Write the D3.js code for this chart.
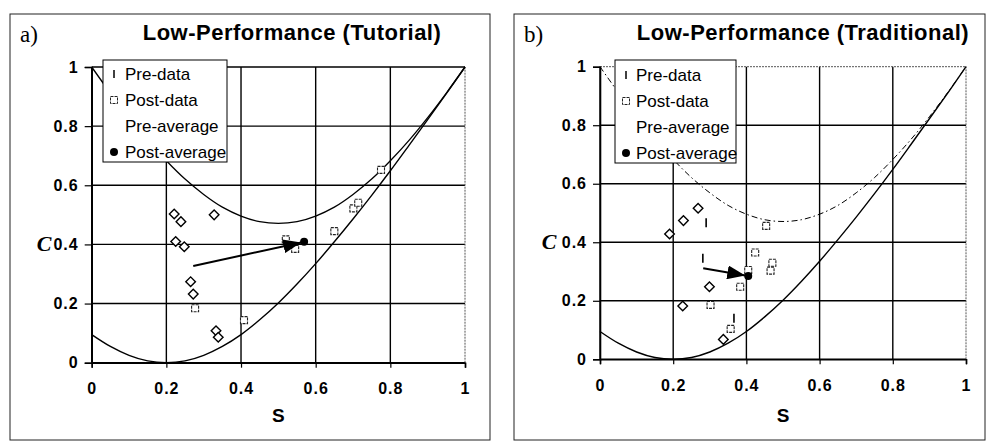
<!DOCTYPE html>
<html>
<head>
<meta charset="utf-8">
<script src="https://cdn.jsdelivr.net/npm/d3@7"></script>
<style>
  body { margin: 0; background: #fff; }
  text { font-family: "Liberation Sans", Arial, sans-serif; fill: #000; }
</style>
</head>
<body>
<svg id="chart" width="986" height="445"></svg>
<script>
// boundary curves
var curveS = [0, 0.05, 0.1, 0.15, 0.2, 0.25, 0.3, 0.35, 0.4, 0.45, 0.5, 0.55, 0.6, 0.65, 0.7, 0.75, 0.8, 0.85, 0.9, 0.95, 1];
var lowerC = [0.095, 0.055, 0.025, 0.006, 0, 0.006, 0.025, 0.055, 0.095, 0.145, 0.202, 0.266, 0.335, 0.409, 0.486, 0.566, 0.649, 0.735, 0.822, 0.91, 1];
var upperC = [1, 0.912, 0.829, 0.752, 0.683, 0.621, 0.569, 0.526, 0.496, 0.477, 0.471, 0.477, 0.496, 0.526, 0.569, 0.621, 0.683, 0.752, 0.829, 0.912, 1];

var ticks = [0, 0.2, 0.4, 0.6, 0.8, 1];
var legendLabels = ["Pre-data", "Post-data", "Pre-average", "Post-average"];

// a) tutorial
var tutorialPre = [[0.221, 0.503], [0.239, 0.477], [0.328, 0.50], [0.225, 0.41], [0.248, 0.392],
                   [0.265, 0.274], [0.272, 0.232], [0.333, 0.108], [0.339, 0.086]];
var tutorialPreBars = [];
var tutorialPost = [[0.277, 0.184], [0.408, 0.144], [0.52, 0.417], [0.545, 0.385], [0.65, 0.445],
                    [0.701, 0.522], [0.714, 0.541], [0.775, 0.652]];
var tutorialPreAvg = [0.272, 0.327];
var tutorialPostAvg = [0.569, 0.409];

// b) traditional
var traditionalPre = [[0.19, 0.428], [0.228, 0.474], [0.268, 0.516], [0.299, 0.248], [0.226, 0.182], [0.337, 0.068]];
var traditionalPreBars = [[0.29, 0.467], [0.281, 0.345], [0.366, 0.14]];
var traditionalPost = [[0.454, 0.456], [0.424, 0.365], [0.471, 0.33], [0.466, 0.303], [0.405, 0.305],
                       [0.383, 0.248], [0.302, 0.186], [0.357, 0.104]];
var traditionalPreAvg = [0.282, 0.311];
var traditionalPostAvg = [0.405, 0.285];

var svg = d3.select("#chart");

svg.append("defs").append("marker")
  .attr("id", "arrow")
  .attr("markerUnits", "userSpaceOnUse")
  .attr("markerWidth", 20).attr("markerHeight", 14)
  .attr("refX", 18).attr("refY", 7)
  .attr("orient", "auto")
  .append("path").attr("d", "M0,0 L18,7 L0,14 Z").attr("fill", "#000");

function drawPanel(p) {
  var g = svg.append("g");

  // outer frame
  g.append("rect")
    .attr("x", p.frame[0]).attr("y", p.frame[1])
    .attr("width", p.frame[2] - p.frame[0]).attr("height", p.frame[3] - p.frame[1])
    .attr("fill", "none").attr("stroke", "#222").attr("stroke-width", 1);

  var x = d3.scaleLinear().domain([0, 1]).range(p.xr);
  var y = d3.scaleLinear().domain([0, 1]).range(p.yr);

  // grid
  ticks.forEach(function(t) {
    var dottedTop = (t === 1 && p.dottedTop);
    g.append("line")
      .attr("x1", x(0)).attr("x2", x(1)).attr("y1", y(t)).attr("y2", y(t))
      .attr("stroke", dottedTop ? "#555" : "#000")
      .attr("stroke-width", dottedTop ? 1 : 1.4)
      .attr("stroke-dasharray", dottedTop ? "2,1" : null);
    var dottedRight = (t === 1);
    g.append("line")
      .attr("y1", y(0)).attr("y2", y(1)).attr("x1", x(t)).attr("x2", x(t))
      .attr("stroke", dottedRight ? "#555" : "#000")
      .attr("stroke-width", dottedRight ? 1 : 1.4)
      .attr("stroke-dasharray", dottedRight ? "2,1" : null);
  });

  // axes
  var ax = g.append("g")
    .attr("transform", "translate(0," + y(0) + ")")
    .call(d3.axisBottom(x).tickValues(ticks).tickSize(5).tickPadding(15).tickFormat(d3.format("")));
  var ay = g.append("g")
    .attr("transform", "translate(" + x(0) + ",0)")
    .call(d3.axisLeft(y).tickValues(ticks).tickSize(7).tickPadding(6).tickFormat(d3.format("")));
  [ax, ay].forEach(function(a) {
    a.select(".domain").attr("stroke", "#000").attr("stroke-width", 1.6);
    a.selectAll(".tick line").attr("stroke", "#000").attr("stroke-width", 1.2);
    a.selectAll(".tick text")
      .style("font-family", "Liberation Sans, Arial, sans-serif")
      .style("font-size", "16px").style("font-weight", "bold")
      .style("letter-spacing", "1px").attr("fill", "#000");
  });

  // boundary curves
  var line = d3.line()
    .x(function(d, i) { return x(curveS[i]); })
    .y(function(d) { return y(d); })
    .curve(d3.curveCatmullRom.alpha(0.5));
  g.append("path").datum(upperC).attr("d", line)
    .attr("fill", "none").attr("stroke", "#000")
    .attr("stroke-width", p.upperDash ? 1 : 1.3)
    .attr("stroke-dasharray", p.upperDash);
  g.append("path").datum(lowerC).attr("d", line)
    .attr("fill", "none").attr("stroke", "#000").attr("stroke-width", 1.4);

  // post data squares
  g.selectAll(".post").data(p.post).enter().append("rect")
    .attr("x", function(d) { return x(d[0]) - 3.5; })
    .attr("y", function(d) { return y(d[1]) - 3.5; })
    .attr("width", 7).attr("height", 7)
    .attr("fill", "#fff").attr("stroke", "#222").attr("stroke-width", 1.1)
    .attr("stroke-dasharray", "3,1");

  // pre data diamonds
  g.selectAll(".pre").data(p.pre).enter().append("path")
    .attr("transform", function(d) { return "translate(" + x(d[0]) + "," + y(d[1]) + ")"; })
    .attr("d", "M0,-4.8 L4.8,0 L0,4.8 L-4.8,0 Z")
    .attr("fill", "#fff").attr("stroke", "#000").attr("stroke-width", 1.4);

  // pre data bars
  g.selectAll(".bar").data(p.preBars).enter().append("line")
    .attr("x1", function(d) { return x(d[0]); }).attr("x2", function(d) { return x(d[0]); })
    .attr("y1", function(d) { return y(d[1]) - 4.5; }).attr("y2", function(d) { return y(d[1]) + 4.5; })
    .attr("stroke", "#000").attr("stroke-width", 1.6);

  // arrow pre-average -> post-average
  var x0 = x(p.preAvg[0]), y0 = y(p.preAvg[1]);
  var x1 = x(p.postAvg[0]), y1 = y(p.postAvg[1]);
  var len = Math.sqrt((x1 - x0) * (x1 - x0) + (y1 - y0) * (y1 - y0));
  var k = (len - 3) / len;
  g.append("line")
    .attr("x1", x0).attr("y1", y0)
    .attr("x2", x0 + (x1 - x0) * k).attr("y2", y0 + (y1 - y0) * k)
    .attr("stroke", "#000").attr("stroke-width", 2)
    .attr("marker-end", "url(#arrow)");
  g.append("circle").attr("cx", x1).attr("cy", y1).attr("r", 4).attr("fill", "#000");

  // legend
  var lb = p.legend;
  g.append("rect")
    .attr("x", lb[0]).attr("y", lb[1]).attr("width", lb[2] - lb[0]).attr("height", lb[3] - lb[1])
    .attr("fill", "#fff").attr("stroke", "#000").attr("stroke-width", 1);
  legendLabels.forEach(function(lab, i) {
    var ry = p.legendRow0 + i * p.legendStep;
    var mx = lb[0] + p.legendMarkerDx;
    if (i === 0) {
      g.append("line").attr("x1", mx).attr("x2", mx).attr("y1", ry - 4).attr("y2", ry + 4)
        .attr("stroke", "#000").attr("stroke-width", 1.5);
    } else if (i === 1) {
      g.append("rect").attr("x", mx - 3.5).attr("y", ry - 3.5).attr("width", 7).attr("height", 7)
        .attr("fill", "#fff").attr("stroke", "#222").attr("stroke-width", 1).attr("stroke-dasharray", "3,1");
    } else if (i === 3) {
      g.append("circle").attr("cx", mx).attr("cy", ry).attr("r", 4).attr("fill", "#000");
    }
    g.append("text")
      .attr("x", lb[0] + p.legendTextDx).attr("y", ry).attr("dy", "0.35em")
      .style("font-size", "17px").text(lab);
  });

  // titles and labels
  g.append("text")
    .attr("x", p.titleX).attr("y", 40).attr("text-anchor", "middle")
    .style("font-size", "22px").style("font-weight", "bold").style("letter-spacing", "0.5px")
    .text(p.title);
  g.append("text")
    .attr("x", p.frame[0] + 10).attr("y", 42)
    .style("font-family", "Liberation Serif, Times New Roman, serif").style("font-size", "23px")
    .text(p.tag);
  g.append("text")
    .attr("x", p.cX).attr("y", y(0.4) + 7).attr("text-anchor", "middle")
    .style("font-family", "Liberation Serif, Times New Roman, serif")
    .style("font-size", "22px").style("font-weight", "bold").style("font-style", "italic")
    .text("C");
  g.append("text")
    .attr("x", x(0.5)).attr("y", 422).attr("text-anchor", "middle")
    .style("font-size", "19px").style("font-weight", "bold")
    .text("S");
}

drawPanel({
  frame: [10, 14, 490, 440], xr: [91.7, 465], yr: [362.7, 67],
  title: "Low-Performance (Tutorial)", titleX: 292, tag: "a)", cX: 44,
  legend: [103, 60, 227, 162], legendRow0: 74, legendStep: 26, legendMarkerDx: 11, legendTextDx: 22,
  pre: tutorialPre, preBars: tutorialPreBars, post: tutorialPost,
  preAvg: tutorialPreAvg, postAvg: tutorialPostAvg,
  upperDash: null, dottedTop: false
});
drawPanel({
  frame: [514, 14, 985, 440], xr: [600, 966], yr: [359.3, 66.7],
  title: "Low-Performance (Traditional)", titleX: 803, tag: "b)", cX: 549,
  legend: [615, 60, 736, 163], legendRow0: 75, legendStep: 26, legendMarkerDx: 11, legendTextDx: 21,
  pre: traditionalPre, preBars: traditionalPreBars, post: traditionalPost,
  preAvg: traditionalPreAvg, postAvg: traditionalPostAvg,
  upperDash: "6,3,1.5,3", dottedTop: true
});
</script>
</body>
</html>
